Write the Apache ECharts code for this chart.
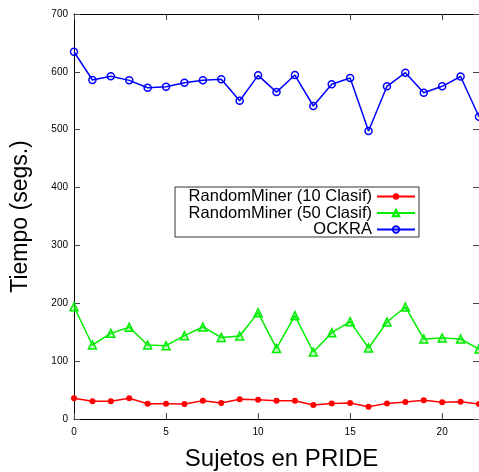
<!DOCTYPE html>
<html>
<head>
<meta charset="utf-8">
<script src="https://cdn.jsdelivr.net/npm/echarts@6/dist/echarts.min.js"></script>
<style>html,body{margin:0;padding:0;background:#fff;}#c{width:479px;height:472px;}</style>
</head>
<body>
<div id="c"></div>
<script>
var subjects = [0,1,2,3,4,5,6,7,8,9,10,11,12,13,14,15,16,17,18,19,20,21,22];
var rm10 = [35.7,30.5,30.5,35.7,26.5,26.5,25.9,31.7,27.6,34,33.4,31.7,31.7,24.2,27,27.6,21.3,27,29.4,32.3,28.8,30,25.9];
var rm50 = [194,127.9,148,158.5,127.9,126.7,144,159,141,143.4,183.8,122,178.6,115.8,149.2,168.2,122.7,167.6,193.6,138.3,140,138.3,121];
var ockra = [634.8,585.9,592.3,585.3,572.6,574.3,581.2,585.3,587.1,550,594,565,594.5,541,578.5,589.4,497.8,575,598.5,564,575,592,522.5];
var seriesNames = ['RandomMiner (10 Clasif)', 'RandomMiner (50 Clasif)', 'OCKRA'];
var xTitle = 'Sujetos en PRIDE';
var yTitle = 'Tiempo (segs.)';

function pairs(vals){ return subjects.map(function(s,i){ return [s, vals[i]]; }); }

var FONT = 'Liberation Sans';
var chart = echarts.init(document.getElementById('c'));
function tick(){ return {show:true, inside:true, length:6, lineStyle:{color:'#444', width:1}}; }
function line(){ return {show:true, onZero:false, lineStyle:{color:'#000', width:1}}; }
function legendItem(name, top){
  return {orient:'vertical', align:'right', padding:0, itemWidth:38, itemHeight:8,
    textStyle:{fontFamily:FONT, fontSize:16.5, color:'#000'}, right:63, top:top, data:[name]};
}
chart.setOption({
  animation:false,
  backgroundColor:'#fff',
  grid:{left:74, top:14, right:0, bottom:53, containLabel:false, outerBoundsMode:'none'},
  xAxis:[{
    type:'value', min:0, max:22, interval:5, gridIndex:0,
    name:xTitle, nameLocation:'middle', nameGap:28,
    nameTextStyle:{fontFamily:FONT, fontSize:24, color:'#000', padding:[0,0,0,10]},
    axisLine:line(), axisTick:tick(),
    axisLabel:{fontFamily:FONT, fontSize:10, color:'#000', margin:8, showMaxLabel:false},
    splitLine:{show:false}
  },{
    type:'value', min:0, max:22, interval:5, position:'top', gridIndex:0,
    axisLine:line(), axisTick:tick(), axisLabel:{show:false}, splitLine:{show:false}
  }],
  yAxis:[{
    type:'value', min:0, max:700, interval:100, gridIndex:0,
    name:yTitle, nameLocation:'middle', nameGap:42,
    nameTextStyle:{fontFamily:FONT, fontSize:23, color:'#000'},
    axisLine:line(), axisTick:tick(),
    axisLabel:{fontFamily:FONT, fontSize:10, color:'#000', margin:6},
    splitLine:{show:false}
  },{
    type:'value', min:0, max:700, interval:100, position:'right', gridIndex:0,
    axisLine:line(), axisTick:tick(), axisLabel:{show:false}, splitLine:{show:false}
  }],
  legend:[
    legendItem(seriesNames[0], 188),
    legendItem(seriesNames[1], 204.5),
    legendItem(seriesNames[2], 221)
  ],
  graphic:[{type:'rect', shape:{x:175, y:187, width:244, height:50},
    style:{fill:'none', stroke:'#333', lineWidth:1}, silent:true, z:-1}],
  series:[{
    name:seriesNames[0], type:'line', data:pairs(rm10),
    symbol:'circle', symbolSize:6,
    lineStyle:{color:'#ff0000', width:1.5},
    itemStyle:{color:'#ff0000'}
  },{
    name:seriesNames[1], type:'line', data:pairs(rm50),
    symbol:'triangle', symbolSize:8,
    lineStyle:{color:'#00ee00', width:1.5},
    itemStyle:{color:'rgba(0,238,0,0.25)', borderColor:'#00ee00', borderWidth:1.5}
  },{
    name:seriesNames[2], type:'line', data:pairs(ockra),
    symbol:'circle', symbolSize:7,
    lineStyle:{color:'#0000ff', width:1.5},
    itemStyle:{color:'rgba(0,0,0,0)', borderColor:'#0000ff', borderWidth:1.5}
  }]
});
</script>
</body>
</html>
